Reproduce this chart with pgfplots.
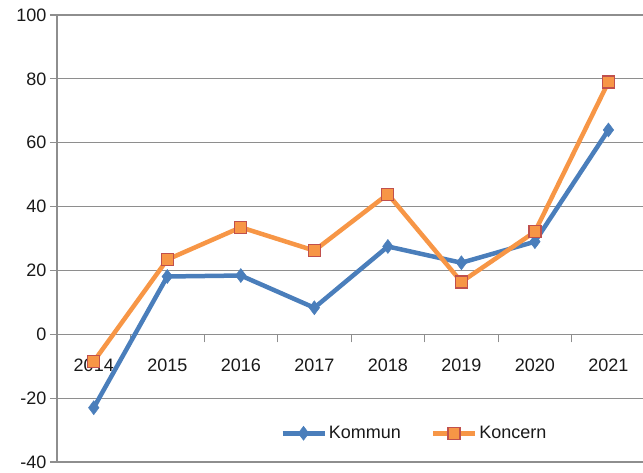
\documentclass[border=0pt]{standalone}
\usepackage{pgfplots}
\pgfplotsset{compat=1.18}
\usepackage{fontspec}
\setmainfont{Liberation Sans}

\definecolor{kommun}{HTML}{4A7EBB}
\definecolor{koncern}{HTML}{F79646}
\definecolor{koncernedge}{HTML}{C0504D}
\definecolor{gridgray}{HTML}{8E8E8E}

\begin{document}
\begin{tikzpicture}
\begin{axis}[
    scale only axis,
    width=586pt, height=447pt,
    xmin=-0.5, xmax=7.47,
    ymin=-40, ymax=100,
    axis x line=middle,
    axis y line=left,
    axis line style={-, gridgray, line width=1.2pt},
    hide obscured y ticks=false,
    hide obscured x ticks=false,
    xtick={0,...,7},
    xticklabels={2014,2015,2016,2017,2018,2019,2020,2021},
    major x tick style={draw=none},
    minor xtick={-0.5,0.5,...,6.5},
    minor x tick style={gridgray, line width=1pt},
    minor tick length=8pt,
    xtick align=outside,
    xticklabel style={yshift=-14pt},
    ytick={-40,-20,...,100},
    ytick align=outside,
    major tick length=7pt,
    y tick style={gridgray, line width=1.2pt},
    ymajorgrids=true,
    grid style={gridgray, line width=1.2pt},
    tick label style={font=\fontsize{18}{20}\selectfont, text=black!90},
    /pgf/number format/assume math mode=true,
    legend style={at={(axis cs:4.36,-31)}, anchor=center, draw=none, fill=none,
        font=\fontsize{18}{20}\selectfont, text=black!90},
    legend columns=2,
    legend cell align=left,
    /tikz/every even column/.append style={column sep=28pt},
    legend image code/.code={\draw[mark repeat=2,mark phase=2,#1] plot coordinates {(0pt,0pt)(21pt,0pt)(42pt,0pt)};},
]
\addplot[kommun, line width=4.5pt, mark=diamond*, mark size=7pt,
    mark options={solid, fill=kommun, draw=kommun, line width=0.5pt}]
    coordinates {(0,-23) (1,18.1) (2,18.4) (3,8.3) (4,27.5) (5,22.4) (6,29) (7,64)};
\addlegendentry{Kommun}
\addplot[koncern, line width=4.5pt, mark=square*, mark size=6pt,
    mark options={solid, fill=koncern, draw=koncernedge, line width=1.2pt}]
    coordinates {(0,-8.5) (1,23.4) (2,33.5) (3,26.2) (4,43.9) (5,16.4) (6,32.1) (7,79)};
\addlegendentry{Koncern}
\end{axis}
\pgfresetboundingbox
\path[use as bounding box] ([xshift=-57pt,yshift=-11pt]current axis.south west) rectangle ([yshift=15pt]current axis.north east);
\end{tikzpicture}
\end{document}
